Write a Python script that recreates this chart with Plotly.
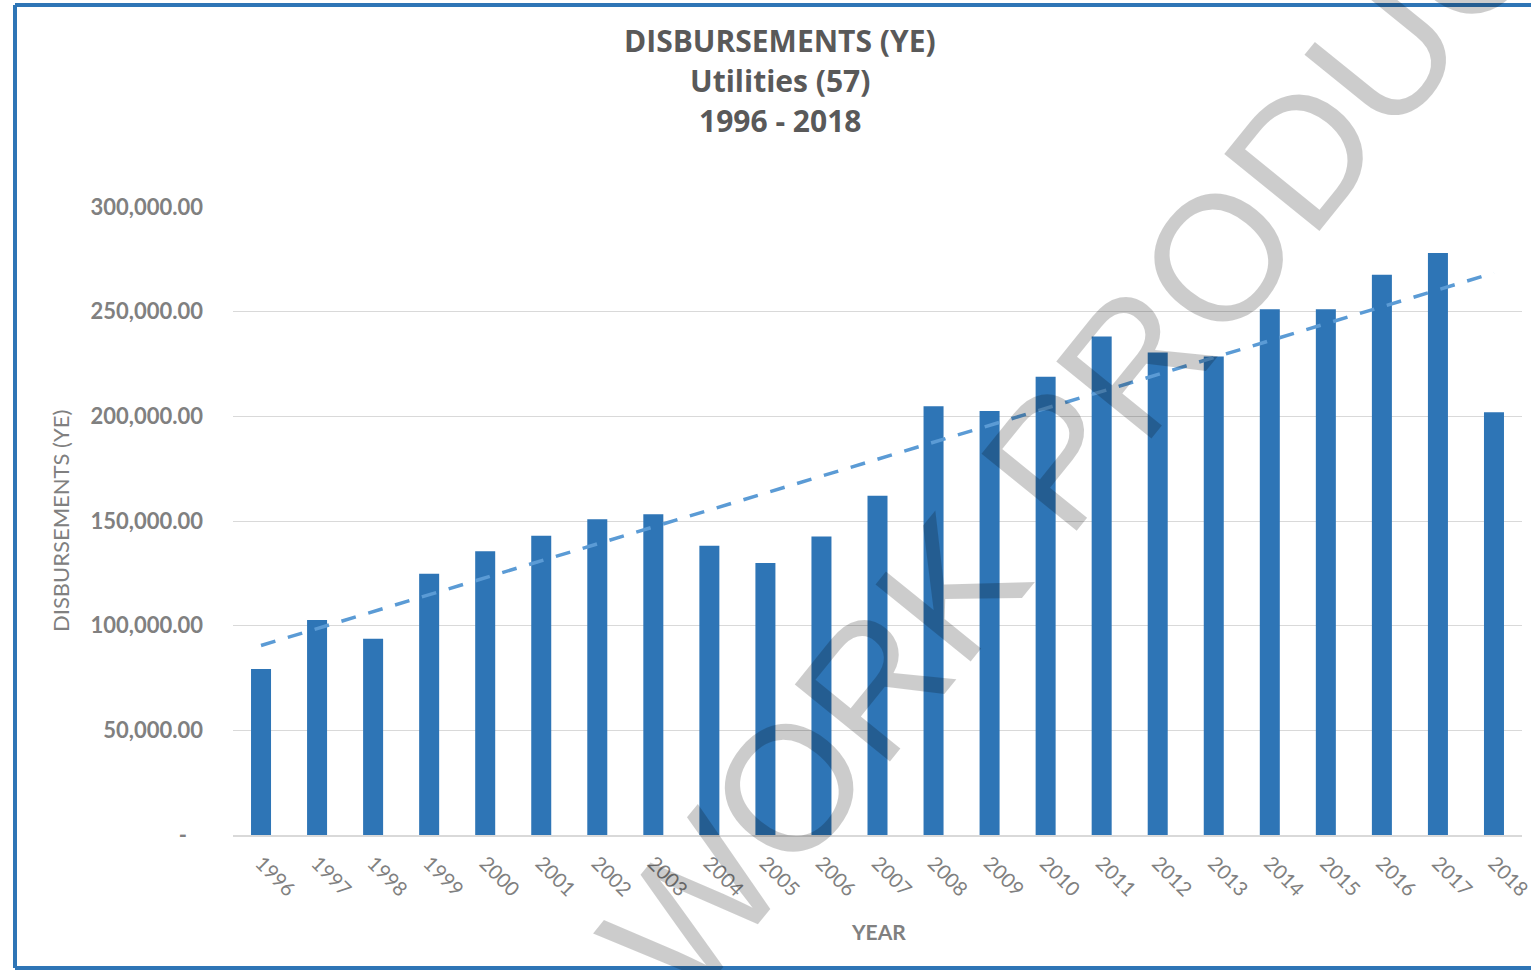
import numpy as np
import plotly.graph_objects as go

years = ["1996", "1997", "1998", "1999", "2000", "2001", "2002", "2003", "2004", "2005", "2006", "2007",
         "2008", "2009", "2010", "2011", "2012", "2013", "2014", "2015", "2016", "2017", "2018"]
disbursements = [79300, 102700, 93700, 124800, 135500, 142900, 150800, 153200, 138200, 129900, 142600, 162100,
                 204800, 202600, 218900, 238100, 230500, 228600, 251100, 251100, 267600, 278000, 201900]
ytick_vals = [0, 50000, 100000, 150000, 200000, 250000, 300000]
ytick_text = ["-\u00a0\u00a0\u00a0", "50,000.00", "100,000.00", "150,000.00", "200,000.00", "250,000.00", "300,000.00"]
title_lines = ["DISBURSEMENTS (YE)", "Utilities (57)", "1996 - 2018"]
watermark = "WORK PRODUCT"

# linear trendline (like Excel's linear trendline)
idx = np.arange(len(disbursements))
slope, intercept = np.polyfit(idx, disbursements, 1)
trend = slope * idx + intercept

W, H = 1531, 970
L, R, T, B = 233, 9, 207, 135
pw, ph = W - L - R, H - T - B


def px(x):
    return (x - L) / pw


def py(y):
    return (H - B - y) / ph


fig = go.Figure()
fig.add_trace(go.Bar(x=years, y=disbursements, marker_color="#2E75B6", marker_line_width=0, name="Disbursements"))
fig.add_trace(go.Scatter(x=years, y=trend, mode="lines",
                         line=dict(color="#5B9BD5", width=3.5, dash="15px,13px"), name="Trend"))

grey = "#808080"
fig.update_layout(
    width=W, height=H,
    margin=dict(l=L, r=R, t=T, b=B, autoexpand=False),
    paper_bgcolor="white", plot_bgcolor="white",
    showlegend=False,
    bargap=0.643,
    font=dict(family="Lato, 'Noto Sans', sans-serif", color=grey),
    xaxis=dict(type="category", tickangle=45, showgrid=False, showline=True, linecolor="#D9D9D9", linewidth=1.5,
               ticks="", tickfont=dict(size=20, color=grey), ticklabelstandoff=7, automargin=False),
    yaxis=dict(range=[0, 300000], tickvals=ytick_vals, ticktext=ytick_text, showgrid=True,
               gridcolor="#D9D9D9", gridwidth=1.3, zeroline=False, showline=False, ticks="",
               tickfont=dict(size=22, color=grey, family="Lato", weight="bold"), ticklabelstandoff=29,
               automargin=False),
)

annotations = []
for text, yy in zip(title_lines, [41, 80, 121]):
    annotations.append(dict(text="<b>%s</b>" % text, x=px(780), y=py(yy), xref="paper", yref="paper",
                            xanchor="center", yanchor="middle", showarrow=False,
                            font=dict(size=30, color="#595959", family="'Open Sans', Lato", weight="bold")))
annotations.append(dict(text="DISBURSEMENTS (YE)", x=px(60), y=py(521), xref="paper", yref="paper",
                        textangle=-90, xanchor="center", yanchor="middle", showarrow=False,
                        font=dict(size=22, color=grey, family="Lato")))
annotations.append(dict(text="<b>YEAR</b>", x=px(878), y=py(931), xref="paper", yref="paper",
                        xanchor="center", yanchor="middle", showarrow=False,
                        font=dict(size=21, color=grey, family="Lato")))
annotations.append(dict(text=watermark, x=px(1106), y=py(396), xref="paper", yref="paper",
                        xanchor="center", yanchor="middle", showarrow=False, textangle=-51,
                        font=dict(size=178, color="rgba(0,0,0,0.2)", family="Liberation Sans")))
fig.update_layout(annotations=annotations)

# chart border
bx0, bx1, by0, by1 = px(15), px(1545), py(968), py(5)
for (x0, y0, x1, y1) in [(bx0, by0, bx0, by1), (bx0, by1, bx1, by1), (bx0, by0, bx1, by0)]:
    fig.add_shape(type="line", xref="paper", yref="paper", x0=x0, y0=y0, x1=x1, y1=y1,
                  line=dict(color="#2E75B6", width=4))

fig.write_html("out.html", config={"displayModeBar": False},
               post_script="document.body.style.margin='0px';document.body.style.overflow='hidden';")
